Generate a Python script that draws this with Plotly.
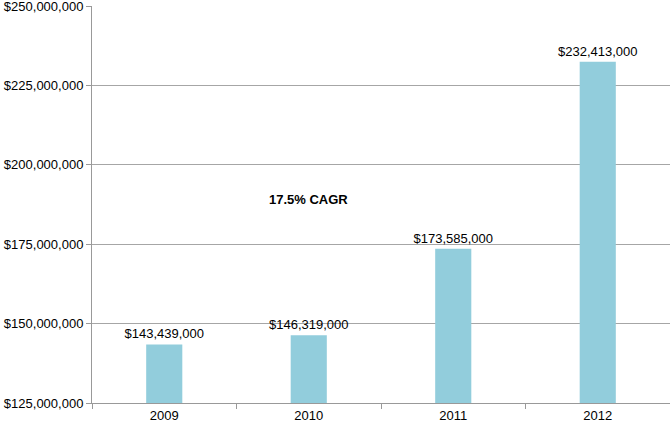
import plotly.graph_objects as go

years = ["2009", "2010", "2011", "2012"]
revenue = [143439000, 146319000, 173585000, 232413000]
labels = ["$143,439,000", "$146,319,000", "$173,585,000", "$232,413,000"]
tick_vals = [125000000, 150000000, 175000000, 200000000, 225000000, 250000000]
tick_text = ["$125,000,000", "$150,000,000", "$175,000,000", "$200,000,000", "$225,000,000", "$250,000,000"]

FONT = "Liberation Sans, Arial"

fig = go.Figure()
fig.add_trace(go.Bar(
    x=years, y=revenue, text=labels, textposition="outside", constraintext="none",
    textfont=dict(family=FONT, size=13, color="#000000"),
    marker=dict(color="#92CDDC", line=dict(width=0)),
    width=0.25, cliponaxis=False,
))
fig.add_annotation(x=1, y=189000000, xref="x", yref="y", text="<b>17.5% CAGR</b>",
                   showarrow=False, font=dict(family=FONT, size=13, color="#000000"))
fig.update_layout(
    width=670, height=427,
    margin=dict(l=92, r=0, t=6, b=24, autoexpand=False),
    paper_bgcolor="white", plot_bgcolor="white",
    showlegend=False,
    font=dict(family=FONT, size=13, color="#000000"),
)
fig.update_xaxes(type="category", showline=True, linecolor="#999999", linewidth=1,
                 ticks="outside", tickson="boundaries", ticklen=5, tickcolor="#999999",
                 showgrid=False, tickfont=dict(size=13), automargin=False,
                 ticklabeloverflow="allow")
fig.update_yaxes(range=[125000000, 250000000], tickvals=tick_vals, ticktext=tick_text,
                 showline=True, linecolor="#999999", linewidth=1,
                 ticks="outside", ticklen=5, tickcolor="#999999",
                 showgrid=True, gridcolor="#a6a6a6", gridwidth=1, zeroline=False,
                 tickfont=dict(size=13), automargin=False, ticklabeloverflow="allow")
fig.write_html("out.html", config={"displayModeBar": False},
               post_script="document.body.style.margin='0';document.body.style.padding='0';")
